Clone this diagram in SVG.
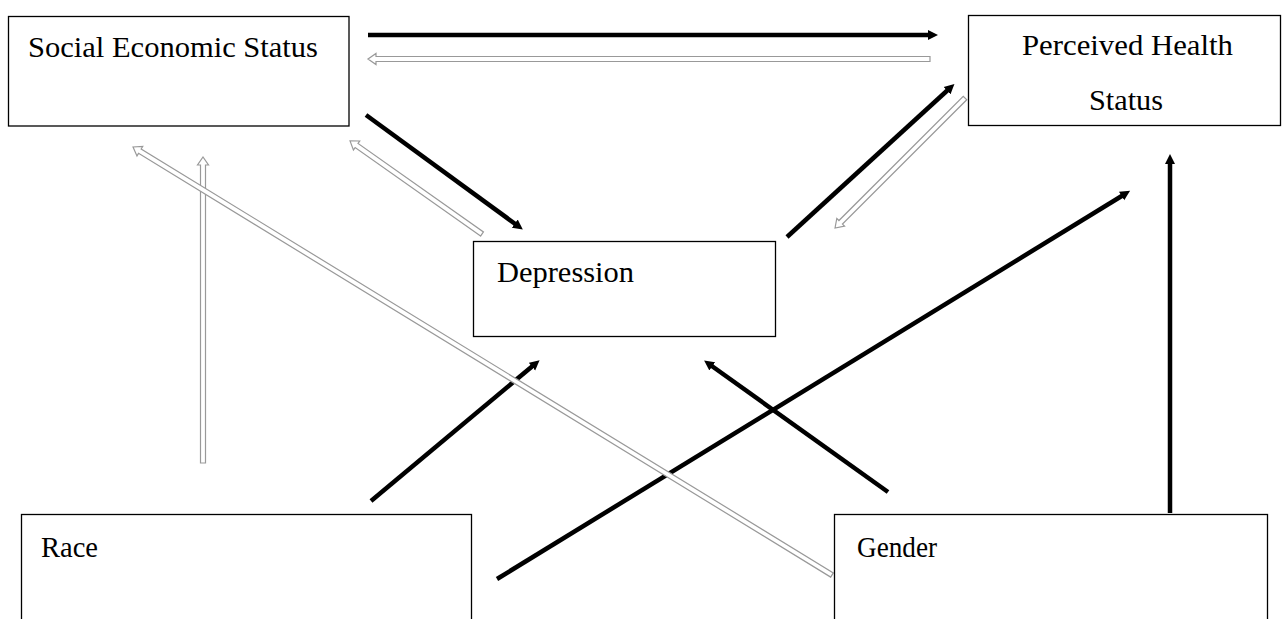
<svg xmlns="http://www.w3.org/2000/svg" width="1282" height="619" viewBox="0 0 1282 619">
<style>
.box{fill:#fff;stroke:#000;stroke-width:1.3}
.lbl{font-family:"Liberation Serif","DejaVu Serif",serif;font-size:29px;fill:#000}
.solid{stroke:#000;stroke-width:4.5;fill:none;marker-end:url(#ah)}
.hollow{fill:#fff;stroke:#999;stroke-width:1.2;stroke-linejoin:miter}
</style>
<defs>
<marker id="ah" markerUnits="userSpaceOnUse" markerWidth="12" markerHeight="12" viewBox="0 0 12 12" refX="4" refY="6" orient="auto">
<path d="M0,1 L10,6 L0,11 z" fill="#000"/>
</marker>
</defs>
<rect width="1282" height="619" fill="#fff"/>
<g id="connectors">
<line class="solid" x1="368" y1="35" x2="932" y2="35"/>
<line class="solid" x1="366" y1="115" x2="518" y2="226"/>
<line class="solid" x1="787" y1="237" x2="950" y2="88"/>
<line class="solid" x1="371" y1="501" x2="535" y2="364"/>
<line class="solid" x1="888" y1="492" x2="709" y2="364"/>
<line class="solid" x1="497" y1="579" x2="1125" y2="194"/>
<line class="solid" x1="1170" y1="513" x2="1170" y2="160"/>
<path class="hollow" transform="translate(930,59) rotate(180)" d="M0,-2.5 H554 V-5.5 L562,0 L554,5.5 V2.5 H0 Z"/>
<path class="hollow" transform="translate(482,234) rotate(215.2)" d="M0,-2.5 H153.5 V-5.5 L161.5,0 L153.5,5.5 V2.5 H0 Z"/>
<path class="hollow" transform="translate(965,98) rotate(135)" d="M0,-2.5 H175.8 V-5.5 L183.8,0 L175.8,5.5 V2.5 H0 Z"/>
<path class="hollow" transform="translate(203,463) rotate(-90)" d="M0,-2.5 H298 V-5.5 L306,0 L298,5.5 V2.5 H0 Z"/>
<path class="hollow" transform="translate(832,575) rotate(211.48)" d="M0,-2.5 H811.6 V-5.5 L819.6,0 L811.6,5.5 V2.5 H0 Z"/>
</g>
<g id="ses">
<rect class="box" x="8.5" y="16.5" width="340.5" height="109.5"/>
<text class="lbl" x="28" y="57" textLength="290" lengthAdjust="spacingAndGlyphs">Social Economic Status</text>
</g>
<g id="phs">
<rect class="box" x="968.5" y="15.5" width="312" height="110"/>
<text class="lbl" x="1022" y="55" textLength="211" lengthAdjust="spacingAndGlyphs">Perceived Health</text>
<text class="lbl" x="1089" y="110" textLength="74" lengthAdjust="spacingAndGlyphs">Status</text>
</g>
<g id="depression">
<rect class="box" x="473.5" y="241.5" width="302" height="95"/>
<text class="lbl" x="497" y="282" textLength="137" lengthAdjust="spacingAndGlyphs">Depression</text>
</g>
<g id="race">
<rect class="box" x="21.5" y="514.5" width="450" height="120"/>
<text class="lbl" x="41" y="557" textLength="57" lengthAdjust="spacingAndGlyphs">Race</text>
</g>
<g id="gender">
<rect class="box" x="834.5" y="514.5" width="433" height="120"/>
<text class="lbl" x="857" y="557" textLength="80" lengthAdjust="spacingAndGlyphs">Gender</text>
</g>
</svg>
